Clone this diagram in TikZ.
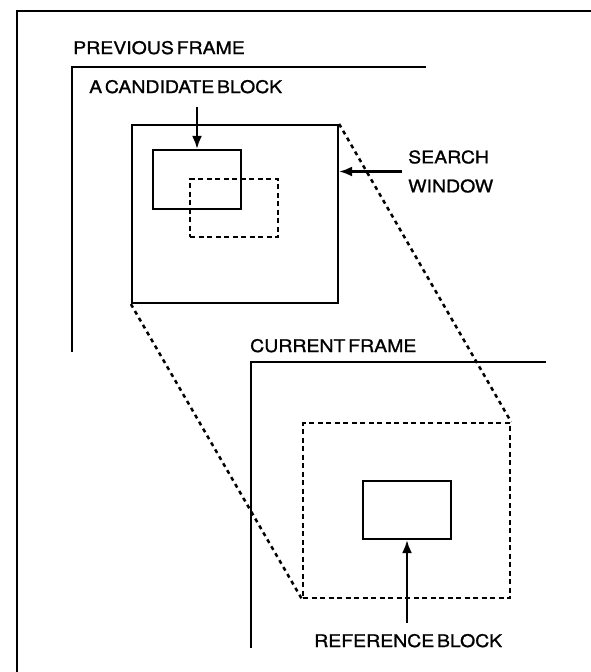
\documentclass[tikz,border=0pt]{standalone}
\usepackage{fontspec}
\setmainfont{TeX Gyre Heros}[FakeStretch=1.12, WordSpace=0.5, FakeBold=1]
\usetikzlibrary{arrows.meta}
\tikzset{
 frameline/.style={line width=2.2pt},
 blk/.style={draw, line width=2.2pt, inner sep=0pt},
 dblk/.style={blk, dash pattern=on 5pt off 3.5pt},
 diag/.style={line width=2.5pt, dash pattern=on 4pt off 4pt},
 lbl/.style={inner sep=1pt, font=\fontsize{17.4}{29}\selectfont},
 arr/.style={line width=2.2pt, -{Latex[length=13pt,width=10pt]}}
}
\begin{document}
\begin{tikzpicture}[x=1pt,y=-1pt]
 \useasboundingbox (0,0) rectangle (591,672);
 \draw [frameline] (17,672) -- (17,11) -- (591,11);

 \draw [frameline] (72,352) -- (72,67) -- (426,67);
 \node [lbl, anchor=base west] (prevlbl) at (72,54) {PREVIOUS FRAME};
 \node [blk, minimum width=206pt, minimum height=178pt] (sw) at (235,214) {};
 \node [blk, minimum width=88pt, minimum height=59pt] (cand) at (197,179.5) {};
 \node [dblk, minimum width=88pt, minimum height=58pt] (shift) at (234,208) {};
 \node [lbl, anchor=base west] (candlbl) at (88,93) {A CANDIDATE BLOCK};
 \draw [arr] ([yshift=-12pt]candlbl.south -| cand.north) -- (cand.north);
 \node [lbl, anchor=west, align=left, inner xsep=6pt] (swlbl) at (402,171.5)
 {SEARCH\\WINDOW};
 \draw [arr] (swlbl.west) -- (swlbl.west -| sw.east);

 \draw [frameline] (251,648) -- (251,362) -- (546,362);
 \node [lbl, anchor=base west] (curlbl) at (249,352) {CURRENT FRAME};
 \node [dblk, minimum width=207pt, minimum height=175pt] (swcur) at (406.5,510.5) {};
 \node [blk, minimum width=88pt, minimum height=58pt] (ref) at (407,510) {};
 \node [lbl, anchor=base west] (reflbl) at (313,647) {REFERENCE BLOCK};
 \draw [arr] ([yshift=10pt]reflbl.north -| ref.south) -- (ref.south);

 \draw [diag] (sw.north east) -- (swcur.north east);
 \draw [diag] (sw.south west) -- (swcur.south west);
\end{tikzpicture}
\end{document}
